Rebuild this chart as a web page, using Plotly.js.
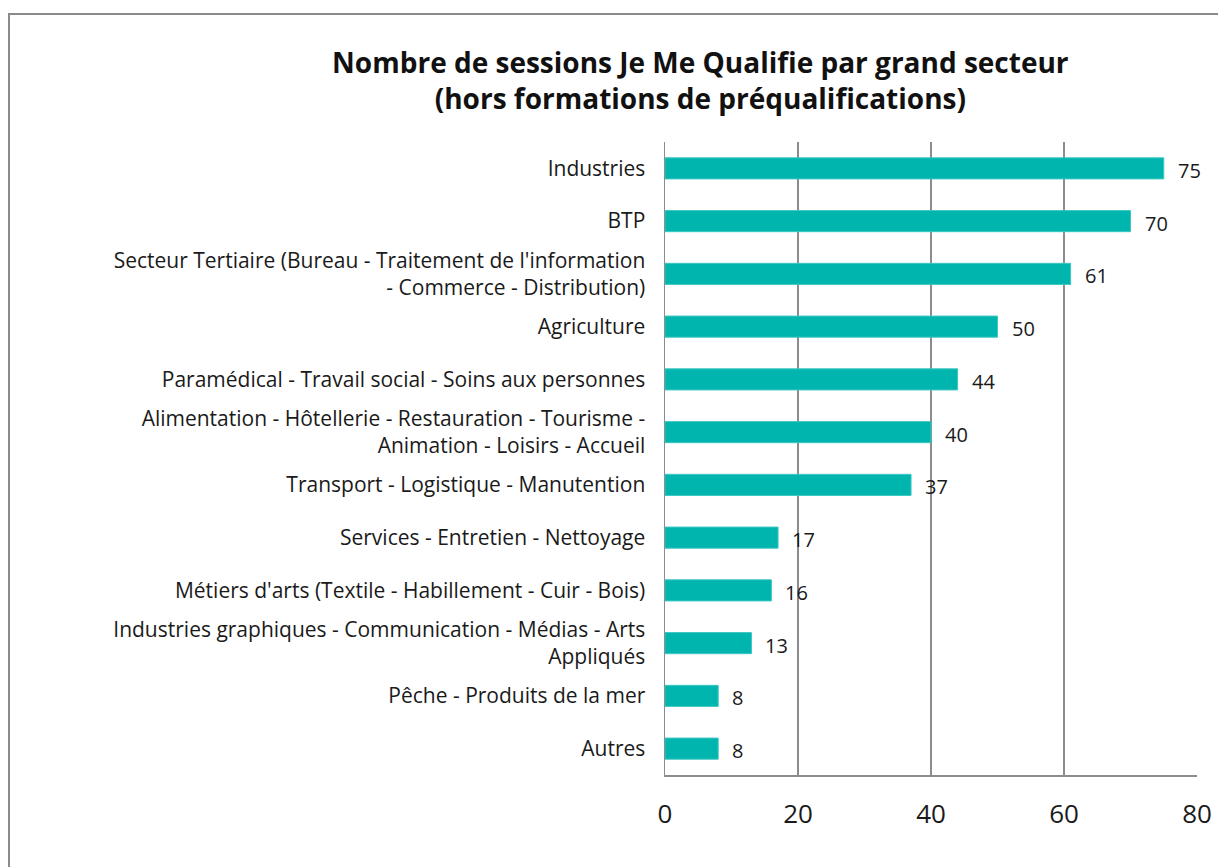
<!DOCTYPE html>
<html>
<head>
<meta charset="utf-8">
<script src="https://cdn.plot.ly/plotly-3.0.1.min.js"></script>
<style>
html,body{margin:0;padding:0;background:#fff;}
#frame{position:absolute;left:8px;top:13px;width:1300px;height:900px;border-left:2px solid #8a8a8a;border-top:2px solid #8a8a8a;}
#chart{position:absolute;left:0;top:0;width:1218px;height:867px;}
</style>
</head>
<body>
<div id="frame"></div>
<div id="chart"></div>
<script>
var categories = [
  "Industries",
  "BTP",
  "Secteur Tertiaire (Bureau - Traitement de l'information<br>- Commerce - Distribution)",
  "Agriculture",
  "Paramédical - Travail social - Soins aux personnes",
  "Alimentation - Hôtellerie - Restauration - Tourisme -<br>Animation - Loisirs - Accueil",
  "Transport - Logistique - Manutention",
  "Services - Entretien - Nettoyage",
  "Métiers d'arts (Textile - Habillement - Cuir - Bois)",
  "Industries graphiques - Communication - Médias - Arts<br>Appliqués",
  "Pêche - Produits de la mer",
  "Autres"
];
var sessions = [75, 70, 61, 50, 44, 40, 37, 17, 16, 13, 8, 8];
var tickValues = [0, 20, 40, 60, 80];
var tickLabels = ["0", "20", "40", "60", "80"];

var font = "'Open Sans', Roboto, sans-serif";

var annotations = categories.map(function(c, i){
  return {x: sessions[i], y: c, xref: 'x', yref: 'y', text: String(sessions[i]),
    showarrow: false, xanchor: 'left', xshift: 12, yshift: -2,
    font: {family: font, size: 20, color: '#1a1a1a'}};
});

var trace = {
  type: 'bar', orientation: 'h',
  x: sessions, y: categories,
  marker: {color: '#00B5AE', line: {color: '#3cc7c1', width: 1}},
  hoverinfo: 'x+y'
};

var layout = {
  width: 1218, height: 867,
  paper_bgcolor: 'rgba(0,0,0,0)', plot_bgcolor: 'rgba(0,0,0,0)',
  margin: {l: 665, r: 21, t: 142, b: 92},
  bargap: 0.6,
  showlegend: false,
  title: {
    text: '<b>Nombre de sessions Je Me Qualifie par grand secteur<br>(hors formations de préqualifications)</b>',
    x: 0.575, xanchor: 'center', y: 0.916, yanchor: 'top',
    font: {family: font, size: 28, color: '#111'}
  },
  xaxis: {
    range: [0, 80], tickvals: tickValues, ticktext: tickLabels,
    showgrid: true, gridcolor: '#8c8c8c', gridwidth: 1.5,
    zeroline: false, showline: true, linecolor: '#8c8c8c', linewidth: 1.5,
    ticks: '', ticklabelstandoff: 15,
    tickfont: {family: font, size: 26, color: '#1a1a1a'}, fixedrange: true
  },
  yaxis: {
    autorange: 'reversed', showgrid: false, zeroline: false,
    showline: true, linecolor: '#8c8c8c', linewidth: 1.5,
    ticks: '', ticklabelstandoff: 14,
    tickfont: {family: font, size: 21, color: '#1a1a1a'}, fixedrange: true
  },
  annotations: annotations
};

Plotly.newPlot('chart', [trace], layout, {displayModeBar: false, staticPlot: true});
</script>
</body>
</html>
